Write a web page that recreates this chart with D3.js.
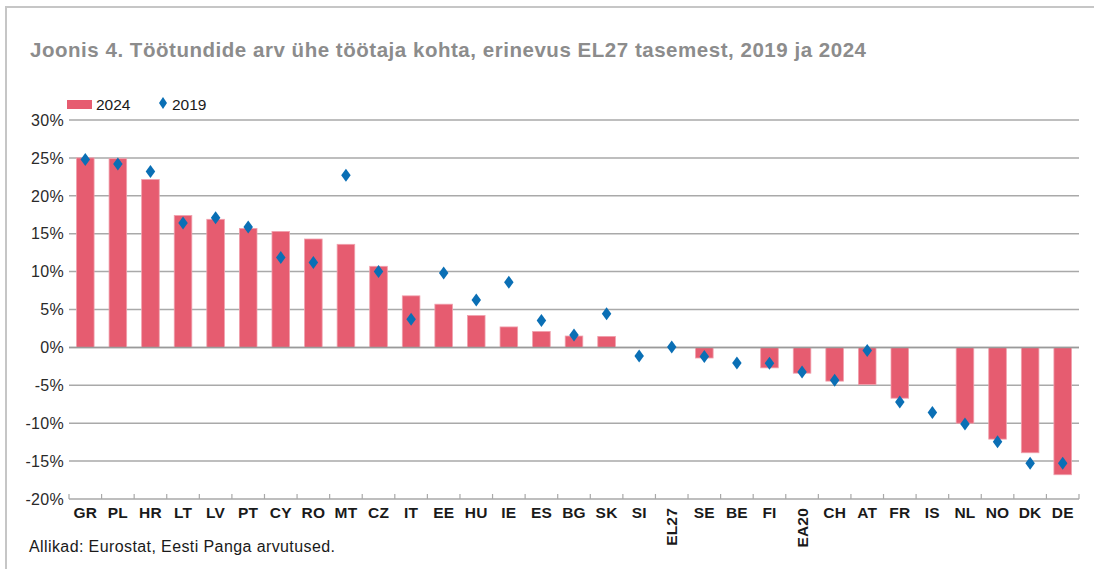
<!DOCTYPE html>
<html>
<head>
<meta charset="utf-8">
<script src="https://cdn.jsdelivr.net/npm/d3@7"></script>
<style>
  html, body { margin: 0; padding: 0; background: #fff; }
  svg { display: block; font-family: "Liberation Sans", Arial, sans-serif; }
</style>
</head>
<body>
<svg id="chart" width="1094" height="569"></svg>
<script>
const categories = ["GR","PL","HR","LT","LV","PT","CY","RO","MT","CZ","IT","EE","HU","IE","ES","BG","SK","SI","EL27","SE","BE","FI","EA20","CH","AT","FR","IS","NL","NO","DK","DE"];
const values2024 = [25.0,24.9,22.15,17.4,16.9,15.7,15.3,14.3,13.6,10.7,6.8,5.7,4.2,2.7,2.1,1.5,1.45,null,null,-1.4,null,-2.7,-3.4,-4.45,-4.9,-6.7,null,-10.0,-12.1,-13.9,-16.8];
const values2019 = [24.8,24.2,23.2,16.4,17.1,15.9,11.85,11.2,22.7,10.0,3.7,9.8,6.25,8.6,3.55,1.65,4.45,-1.15,0.05,-1.2,-2.05,-2.1,-3.25,-4.35,-0.4,-7.2,-8.6,-10.1,-12.45,-15.3,-15.3];
const yTicks = [30,25,20,15,10,5,0,-5,-10,-15,-20];
const rotatedLabels = ["EL27","EA20"];
const titleText = "Joonis 4. Töötundide arv ühe töötaja kohta, erinevus EL27 tasemest, 2019 ja 2024";
const sourceText = "Allikad: Eurostat, Eesti Panga arvutused.";
const seriesNames = ["2024","2019"];

(function () {
const barColor = "#e65c70";
const dotColor = "#0a6fb5";
const gridColor = "#a9a9a9";

const svg = d3.select("#chart");
const pLeft = 69, pRight = 1079, pTop = 120, pBottom = 499;

// frame
svg.append("path")
  .attr("d", `M6,569 L6,7 L1094,7`)
  .attr("fill", "none").attr("stroke", "#c6c6c6").attr("stroke-width", 2);

// title
svg.append("text")
  .attr("x", 30).attr("y", 57)
  .attr("font-size", 20.5).attr("font-weight", "bold")
  .attr("fill", "#8c8c8c")
  .attr("textLength", 836).attr("lengthAdjust", "spacing")
  .text(titleText);

const x = d3.scaleBand().domain(categories).range([pLeft, pRight]).paddingInner(0.46).paddingOuter(0.23);
const y = d3.scaleLinear().domain([-20, 30]).range([pBottom, pTop]);

// gridlines
svg.append("g").selectAll("line").data(yTicks).join("line")
  .attr("x1", pLeft).attr("x2", pRight)
  .attr("y1", d => y(d)).attr("y2", d => y(d))
  .attr("stroke", gridColor).attr("stroke-width", 1.5);

// y tick labels
svg.append("g").selectAll("text").data(yTicks).join("text")
  .attr("x", 64).attr("y", d => y(d)).attr("dy", "0.36em")
  .attr("text-anchor", "end").attr("font-size", 16).attr("letter-spacing", 0.3).attr("fill", "#2a2a2a")
  .text(d => d + "%");

// x ticks at band boundaries (upward)
const step = x.step();
const boundaries = categories.map(c => x(c) - step * x.paddingInner() / 2).concat([pRight]);
boundaries[0] = pLeft;
svg.append("g").selectAll("line").data(boundaries).join("line")
  .attr("x1", d => d).attr("x2", d => d)
  .attr("y1", pBottom).attr("y2", pBottom - 5)
  .attr("stroke", gridColor).attr("stroke-width", 1.2);

// bars
const barData = categories.map((c, i) => ({c, v: values2024[i]})).filter(d => d.v !== null);
svg.append("g").selectAll("rect").data(barData).join("rect")
  .attr("x", d => x(d.c))
  .attr("width", x.bandwidth())
  .attr("y", d => Math.min(y(d.v), y(0)))
  .attr("height", d => Math.abs(y(d.v) - y(0)))
  .attr("fill", barColor)
  .attr("stroke", "#f0a0ad").attr("stroke-width", 0.8);

// zero line redrawn on top
svg.append("line")
  .attr("x1", pLeft).attr("x2", pRight).attr("y1", y(0)).attr("y2", y(0))
  .attr("stroke", "#9a9a9a").attr("stroke-width", 1.5);

// diamonds
const diamond = (cx, cy, w, h) => `M${cx},${cy - h/2} L${cx + w/2},${cy} L${cx},${cy + h/2} L${cx - w/2},${cy} Z`;
const dotData = categories.map((c, i) => ({c, v: values2019[i]}));
svg.append("g").selectAll("path").data(dotData).join("path")
  .attr("d", d => diamond(x(d.c) + x.bandwidth() / 2, y(d.v), 9.5, 13))
  .attr("fill", dotColor);

// x labels
const xl = svg.append("g");
categories.forEach(c => {
  const cx = x(c) + x.bandwidth() / 2;
  if (rotatedLabels.includes(c)) {
    xl.append("text")
      .attr("transform", `translate(${cx},508) rotate(-90)`)
      .attr("dy", "0.36em")
      .attr("text-anchor", "end")
      .attr("font-size", 15.5).attr("letter-spacing", 0.2).attr("font-weight", "bold").attr("fill", "#1a1a1a")
      .text(c);
  } else {
    xl.append("text")
      .attr("x", cx).attr("y", 518)
      .attr("text-anchor", "middle")
      .attr("font-size", 15.5).attr("letter-spacing", 0.2).attr("font-weight", "bold").attr("fill", "#1a1a1a")
      .text(c);
  }
});

// legend
svg.append("rect").attr("x", 67).attr("y", 100).attr("width", 25).attr("height", 9).attr("fill", barColor);
svg.append("text").attr("x", 96).attr("y", 109.5).attr("font-size", 15.5).attr("fill", "#1a1a1a").text(seriesNames[0]);
svg.append("path").attr("d", diamond(163, 103, 8, 12)).attr("fill", dotColor);
svg.append("text").attr("x", 172).attr("y", 109.5).attr("font-size", 15.5).attr("fill", "#1a1a1a").text(seriesNames[1]);

// source
svg.append("text").attr("x", 29).attr("y", 552).attr("font-size", 16).attr("letter-spacing", 0.4).attr("fill", "#1a1a1a").text(sourceText);
})();
</script>
</body>
</html>
